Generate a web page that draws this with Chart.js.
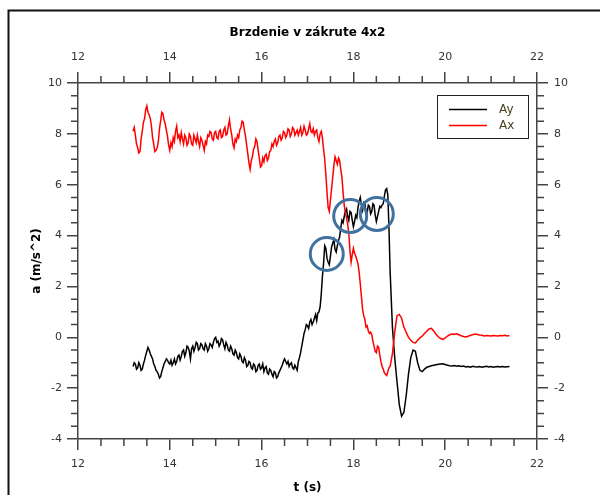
<!DOCTYPE html>
<html><head><meta charset="utf-8">
<script src="https://cdn.jsdelivr.net/npm/chart.js@4"></script>
<style>html,body{margin:0;padding:0;background:#fff}#wrap{width:600px;height:495px}</style>
</head><body><div id="wrap"><canvas id="c" width="600" height="495"></canvas></div>
<script>
const chartTitle = 'Brzdenie v zákrute 4x2';
const xTitle = 't (s)';
const yTitle = 'a (m/s^2)';
const xTicks = [12, 14, 16, 18, 20, 22];
const yTicks = [-4, -2, 0, 2, 4, 6, 8, 10];
const seriesNames = ['Ay', 'Ax'];

const time = [
  13.200,13.225,13.250,13.275,13.300,13.325,13.350,13.375,13.400,13.425,13.450,13.475,13.500,13.525,13.550,13.575,13.600,13.625,13.650,13.675,
  13.700,13.725,13.750,13.775,13.800,13.825,13.850,13.875,13.900,13.925,13.950,13.975,14.000,14.025,14.050,14.075,14.100,14.125,14.150,14.175,
  14.200,14.225,14.250,14.275,14.300,14.325,14.350,14.375,14.400,14.425,14.450,14.475,14.500,14.525,14.550,14.575,14.600,14.625,14.650,14.675,
  14.700,14.725,14.750,14.775,14.800,14.825,14.850,14.875,14.900,14.925,14.950,14.975,15.000,15.025,15.050,15.075,15.100,15.125,15.150,15.175,
  15.200,15.225,15.250,15.275,15.300,15.325,15.350,15.375,15.400,15.425,15.450,15.475,15.500,15.525,15.550,15.575,15.600,15.625,15.650,15.675,
  15.700,15.725,15.750,15.775,15.800,15.825,15.850,15.875,15.900,15.925,15.950,15.975,16.000,16.025,16.050,16.075,16.100,16.125,16.150,16.175,
  16.200,16.225,16.250,16.275,16.300,16.325,16.350,16.375,16.400,16.425,16.450,16.475,16.500,16.525,16.550,16.575,16.600,16.625,16.650,16.675,
  16.700,16.725,16.750,16.775,16.800,16.825,16.850,16.875,16.900,16.925,16.950,16.975,17.000,17.025,17.050,17.075,17.100,17.125,17.150,17.175,
  17.200,17.225,17.250,17.275,17.300,17.325,17.350,17.375,17.400,17.425,17.450,17.475,17.500,17.525,17.550,17.575,17.600,17.625,17.650,17.675,
  17.700,17.725,17.750,17.775,17.800,17.825,17.850,17.875,17.900,17.925,17.950,17.975,18.000,18.025,18.050,18.075,18.100,18.125,18.150,18.175,
  18.200,18.225,18.250,18.275,18.300,18.325,18.350,18.375,18.400,18.425,18.450,18.475,18.500,18.525,18.550,18.575,18.600,18.625,18.650,18.675,
  18.700,18.725,18.750,18.775,18.800,
  18.85,18.90,18.95,19.00,19.05,19.10,19.15,
  19.20,19.25,19.30,19.35,19.40,19.45,19.50,19.55,19.60,19.65,19.70,19.75,19.80,19.85,19.90,19.95,20.00,20.05,20.10,20.15,
  20.20,20.25,20.30,20.35,20.40,20.45,20.50,20.55,20.60,20.65,20.70,20.75,20.80,20.85,20.90,20.95,21.00,21.05,21.10,21.15,
  21.20,21.25,21.30,21.35,21.40
];

const ay = [
  -1.15,-1.00,-1.05,-1.25,-1.20,-1.00,-1.10,-1.30,-1.25,-1.05,-0.90,-0.70,-0.55,-0.40,-0.50,-0.65,-0.75,-0.85,-1.05,-1.15,
  -1.30,-1.35,-1.45,-1.60,-1.55,-1.35,-1.20,-1.05,-0.95,-0.85,-0.90,-1.00,-1.05,-0.90,-1.10,-1.00,-0.85,-1.05,-0.95,-0.75,
  -0.70,-0.90,-0.75,-0.55,-0.50,-0.75,-0.60,-0.35,-0.40,-0.55,-0.85,-0.45,-0.35,-0.55,-0.40,-0.20,-0.25,-0.50,-0.45,-0.25,
  -0.30,-0.45,-0.50,-0.25,-0.35,-0.55,-0.45,-0.25,-0.30,-0.40,-0.20,-0.05,0.00,-0.20,-0.15,-0.35,-0.25,-0.05,-0.10,-0.30,
  -0.45,-0.20,-0.30,-0.50,-0.55,-0.35,-0.45,-0.65,-0.70,-0.50,-0.60,-0.80,-0.85,-0.65,-0.75,-0.95,-1.00,-0.80,-0.90,-1.15,
  -1.10,-0.95,-1.00,-1.20,-1.25,-1.05,-1.10,-1.35,-1.30,-1.10,-1.05,-1.25,-1.20,-1.05,-1.35,-1.20,-1.15,-1.40,-1.45,-1.25,
  -1.30,-1.45,-1.55,-1.35,-1.40,-1.60,-1.55,-1.40,-1.30,-1.20,-1.10,-0.95,-0.85,-0.95,-1.05,-0.95,-1.15,-1.05,-1.00,-1.20,
  -1.25,-1.10,-1.20,-1.30,-0.95,-0.80,-0.60,-0.35,-0.10,0.15,0.30,0.50,0.45,0.35,0.60,0.70,0.50,0.60,0.75,0.90,
  0.65,0.95,1.00,1.20,1.70,2.40,2.90,3.60,3.50,3.10,2.95,2.85,3.20,3.55,3.70,3.85,3.45,3.35,3.60,3.80,
  3.95,4.30,4.60,4.50,4.75,4.95,5.05,4.75,4.60,4.95,4.90,4.60,4.35,4.55,4.80,4.70,5.10,5.35,5.50,5.20,
  5.00,5.30,5.25,4.95,4.90,5.20,5.15,4.85,4.95,5.25,5.20,4.80,4.55,4.75,4.95,5.15,5.10,5.20,5.25,5.55,
  5.80,5.85,5.60,4.30,2.60,
  0.40,-0.80,-1.75,-2.65,-3.10,-2.95,-2.30,
  -1.45,-0.80,-0.50,-0.55,-1.00,-1.30,-1.35,-1.25,-1.18,-1.15,-1.12,-1.10,-1.08,-1.06,-1.05,-1.04,-1.07,-1.10,-1.12,-1.13,
  -1.11,-1.14,-1.12,-1.15,-1.13,-1.17,-1.15,-1.18,-1.14,-1.16,-1.17,-1.15,-1.18,-1.16,-1.14,-1.17,-1.15,-1.18,-1.16,-1.15,
  -1.17,-1.15,-1.17,-1.16,-1.15
];

const ax = [
  8.10,8.25,7.95,7.60,7.45,7.25,7.30,7.80,8.10,8.45,8.60,8.95,9.10,8.85,8.75,8.60,8.30,7.85,7.60,7.30,
  7.35,7.45,7.70,8.20,8.50,8.85,8.80,8.55,8.40,8.15,7.90,7.55,7.35,7.65,7.50,7.85,7.70,8.10,8.30,7.85,
  7.95,7.70,8.05,7.80,7.60,7.95,7.85,7.55,7.65,8.00,7.90,7.60,7.55,7.95,7.80,7.65,7.95,7.70,7.50,7.85,
  7.75,7.55,7.35,7.70,7.60,7.95,7.90,8.10,8.05,7.80,7.75,8.05,8.10,7.85,7.80,8.10,8.15,7.85,7.90,8.15,
  8.25,7.95,8.00,8.30,8.55,8.20,7.95,7.60,7.45,7.80,7.70,7.95,7.85,8.15,8.25,8.50,8.45,8.15,7.90,7.55,
  7.20,6.85,6.60,6.95,7.10,7.40,7.50,7.80,7.70,7.35,7.05,6.70,6.75,7.05,6.90,7.15,7.20,6.95,7.05,7.30,
  7.35,7.60,7.50,7.70,7.80,7.55,7.65,7.90,7.95,7.75,7.85,8.10,8.05,7.85,7.95,8.20,8.15,7.90,8.00,8.25,
  8.20,7.95,8.05,8.15,7.95,8.10,8.25,7.95,8.05,8.30,8.15,7.95,8.00,8.20,8.40,8.10,8.05,8.20,7.95,8.10,
  8.15,7.85,7.70,8.00,8.10,7.85,7.40,7.00,6.40,5.70,5.10,4.95,5.40,5.85,6.30,6.75,7.10,6.95,6.80,7.05,
  6.95,6.60,6.30,5.70,5.20,4.90,4.70,4.45,4.10,3.40,2.95,3.25,3.50,3.30,3.20,3.05,2.90,2.55,2.10,1.60,
  1.10,0.85,0.70,0.40,0.45,0.25,0.15,0.20,0.10,-0.15,-0.35,-0.55,-0.60,-0.35,-0.40,-0.70,-0.95,-1.15,-1.25,-1.40,
  -1.45,-1.50,-1.35,-1.20,-1.15,
  -0.65,0.20,0.85,0.90,0.75,0.40,0.20,
  0.00,-0.12,-0.20,-0.22,-0.12,-0.02,0.05,0.15,0.25,0.33,0.35,0.25,0.12,0.02,-0.05,-0.08,-0.02,0.05,0.10,0.13,
  0.12,0.14,0.10,0.06,0.03,0.01,0.04,0.08,0.10,0.13,0.11,0.09,0.08,0.05,0.07,0.06,0.05,0.07,0.06,0.05,
  0.07,0.06,0.08,0.05,0.07
];

// highlighted regions (data coordinates of circle centres)
const markT = [17.42, 17.93, 18.51];
const markA = [3.28, 4.77, 4.85];

const FONT = 'DejaVu Sans';
const AXIS_COLOR = '#444';
const LABEL_COLOR = '#333';

function toXY(xs, ys) { return xs.map((t, i) => ({ x: t, y: ys[i] })); }

function axisBase(min, max, ticksArr, position, pad) {
  return {
    type: 'linear', position, min, max,
    afterBuildTicks: s => { s.ticks = ticksArr.map(v => ({ value: v })); },
    ticks: { font: { family: FONT, size: 11 }, color: LABEL_COLOR, padding: pad, maxRotation: 0, autoSkip: false },
    grid: { display: true, drawOnChartArea: false, drawTicks: true, tickLength: 11, color: AXIS_COLOR, lineWidth: 1.5 },
    border: { display: true, color: AXIS_COLOR, width: 1.5 }
  };
}

const xBottom = axisBase(12, 22, xTicks, 'bottom', 8);
xBottom.title = { display: true, text: xTitle, font: { family: FONT, size: 12, weight: 'bold' }, color: '#000', padding: { top: 5, bottom: 0 } };
xBottom.afterFit = s => { s.height = 56; };
const xTop = axisBase(12, 22, xTicks, 'top', 8);
xTop.afterFit = s => { s.height = 34.6; };
const yLeft = axisBase(-4, 10, yTicks, 'left', 5);
yLeft.title = { display: true, text: yTitle, font: { family: FONT, size: 12, weight: 'bold' }, color: '#000', padding: { top: 30, bottom: 0 } };
yLeft.afterFit = s => { s.width = 78; };
const yRight = axisBase(-4, 10, yTicks, 'right', 6);
yRight.afterFit = s => { s.width = 63; };

const decor = {
  id: 'decor',
  afterDraw(chart) {
    const ctx = chart.ctx;
    const sc = chart.scales;
    const a = chart.chartArea;
    ctx.save();
    // minor ticks (outward)
    ctx.strokeStyle = AXIS_COLOR; ctx.lineWidth = 1.5;
    ctx.beginPath();
    for (let v = 12.5; v < 22; v += 0.5) {
      if (Math.abs(v % 2) < 1e-9) continue;
      const px = sc.x.getPixelForValue(v);
      ctx.moveTo(px, a.bottom); ctx.lineTo(px, a.bottom + 7);
      ctx.moveTo(px, a.top); ctx.lineTo(px, a.top - 7);
    }
    for (let v = -3.5; v < 10; v += 0.5) {
      if (Math.abs(v % 2) < 1e-9) continue;
      const py = sc.y.getPixelForValue(v);
      ctx.moveTo(a.left, py); ctx.lineTo(a.left - 7, py);
      ctx.moveTo(a.right, py); ctx.lineTo(a.right + 7, py);
    }
    ctx.stroke();

    // highlight circles
    ctx.strokeStyle = '#41729f'; ctx.lineWidth = 3;
    for (let i = 0; i < markT.length; i++) {
      ctx.beginPath();
      ctx.arc(sc.x.getPixelForValue(markT[i]), sc.y.getPixelForValue(markA[i]), 16.5, 0, Math.PI * 2);
      ctx.stroke();
    }

    // legend box
    const lx = 437.5, ly = 95.5, lw = 91, lh = 43;
    ctx.fillStyle = '#fff'; ctx.fillRect(lx, ly, lw, lh);
    ctx.strokeStyle = '#222'; ctx.lineWidth = 1; ctx.strokeRect(lx, ly, lw, lh);
    const colors = ['#000', '#ff0000'];
    ctx.font = '12px ' + FONT; ctx.textBaseline = 'middle'; ctx.textAlign = 'left';
    seriesNames.forEach((n, i) => {
      const yy = 109.5 + i * 16;
      ctx.strokeStyle = colors[i]; ctx.lineWidth = 1.3;
      ctx.beginPath(); ctx.moveTo(449, yy); ctx.lineTo(487, yy); ctx.stroke();
      ctx.fillStyle = '#4d4020';
      ctx.fillText(n, 499, yy);
    });

    // outer frame
    ctx.strokeStyle = '#111'; ctx.lineWidth = 2;
    ctx.beginPath(); ctx.moveTo(8.5, 495); ctx.lineTo(8.5, 10.5); ctx.lineTo(600, 10.5); ctx.stroke();
    ctx.restore();
  }
};

new Chart(document.getElementById('c'), {
  type: 'line',
  data: {
    datasets: [
      { label: seriesNames[1], data: toXY(time, ax), borderColor: '#ff0000', borderWidth: 1.5, pointRadius: 0, tension: 0, xAxisID: 'x', yAxisID: 'y' },
      { label: seriesNames[0], data: toXY(time, ay), borderColor: '#000000', borderWidth: 1.5, pointRadius: 0, tension: 0, xAxisID: 'x', yAxisID: 'y' }
    ]
  },
  options: {
    responsive: false,
    devicePixelRatio: 1,
    animation: false,
    events: [],
    layout: { padding: 0 },
    scales: { x: xBottom, x2: xTop, y: yLeft, y2: yRight },
    plugins: {
      legend: { display: false },
      tooltip: { enabled: false },
      title: { display: true, text: chartTitle, fullSize: false, font: { family: FONT, size: 12, weight: 'bold' }, color: '#000', padding: { top: 26, bottom: 8 } }
    }
  },
  plugins: [decor]
});
</script>
</body></html>
